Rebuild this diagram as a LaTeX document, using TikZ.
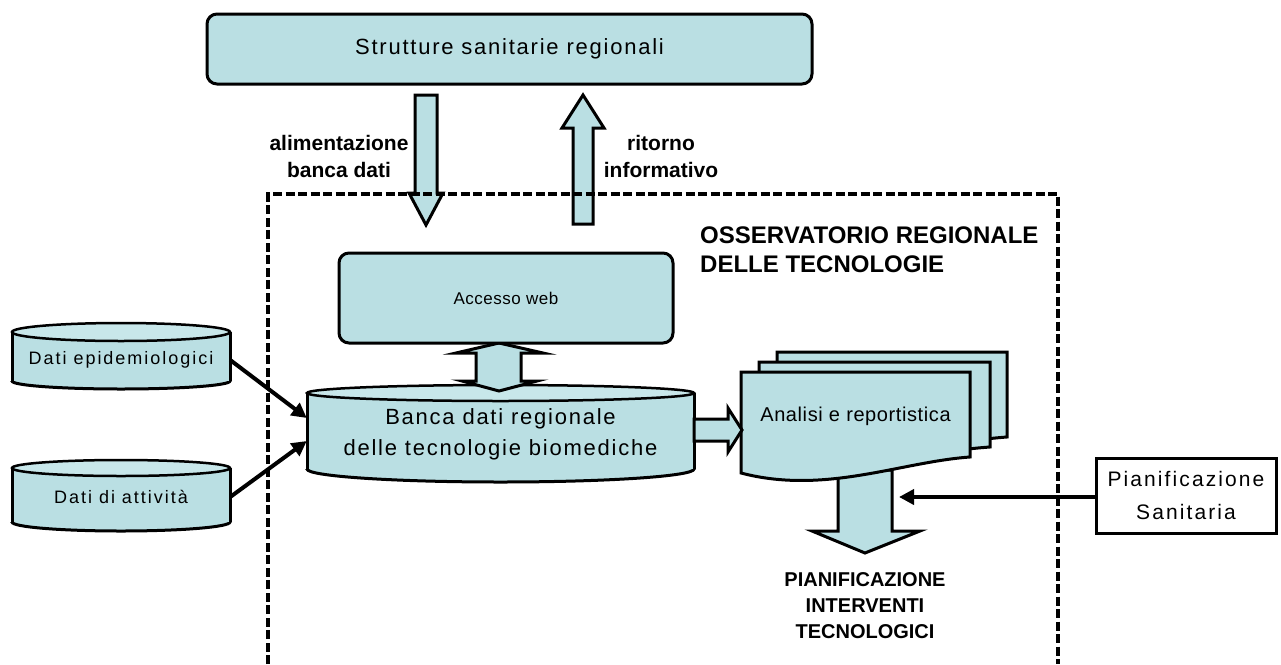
\documentclass[tikz,border=0pt]{standalone}
\usepackage{fontspec}
\setmainfont{Liberation Sans}
\newfontfamily\bfc{Liberation Sans Bold}
\newfontfamily\lsA{Liberation Sans}[LetterSpace=8]
\newfontfamily\lsB{Liberation Sans}[LetterSpace=11]
\newfontfamily\lsC{Liberation Sans}[LetterSpace=3]
\newfontfamily\lsD{Liberation Sans}[LetterSpace=10]
\usetikzlibrary{arrows.meta,calc}
\definecolor{cfill}{HTML}{BADFE3}
\definecolor{ctop}{HTML}{C8E7EA}
\newcommand\mycyl[6]{%
  \pgfmathsetmacro\cylcx{(#1+#2)/2}%
  \pgfmathsetmacro\cylrx{(#2-#1)/2}%
  \fill[cfill] (#1,#3) rectangle (#2,#4);
  \fill[cfill] (\cylcx,#4) ellipse[x radius=\cylrx, y radius=#6];
  \begin{scope}
    \clip (#1-5,#4) rectangle (#2+5,#4+#6+5);
    \draw[line width=3pt] (\cylcx,#4) ellipse[x radius=\cylrx, y radius=#6];
  \end{scope}
  \draw[line width=3pt] (#1,#3) -- (#1,#4) (#2,#3) -- (#2,#4);
  \draw[line width=2.5pt, fill=ctop] (\cylcx,#3) ellipse[x radius=\cylrx, y radius=#5];
}
\begin{document}
\begin{tikzpicture}[x=1pt,y=-1pt,
  rbox/.style={draw, line width=3pt, fill=cfill, rounded corners=10pt, inner sep=0pt},
  outl/.style={draw, line width=3pt, line join=miter, fill=cfill},
  txt/.style={align=center, inner sep=0pt},
  conn/.style={line width=4pt, -{Triangle[length=15pt,width=15pt]}},
  dashbox/.style={line width=3.5pt, dash pattern=on 9pt off 3.5pt}]
\useasboundingbox (0,0) rectangle (1281,664);

% top box
\node[rbox, minimum width=605pt, minimum height=70pt,
      font=\lsA\fontsize{22}{26}\selectfont] (ssr) at (509.5,49) {Strutture sanitarie regionali};

% feeding arrows
\draw[outl] (415,95) -- (437,95) -- (437,193) -- (443,193) -- (426,225)
  -- (409,193) -- (415,193) -- cycle;
\draw[outl] (573,224) -- (573,128) -- (562,128) -- (583,95) -- (604,128)
  -- (593,128) -- (593,224) -- cycle;

% observatory dashed box
\draw[dashbox] (268,664) -- (268,194) -- (1058,194) -- (1058,664);

\node[txt, font=\bfc\fontsize{21}{27}\selectfont] (lab1) at (339,156) {alimentazione\\banca dati};
\node[txt, font=\bfc\fontsize{21}{27}\selectfont] (lab2) at (661,156) {ritorno\\informativo};
\node[txt, align=left, anchor=west, font=\bfc\fontsize{24}{29}\selectfont] (oss) at (700,250)
  {OSSERVATORIO REGIONALE\\DELLE TECNOLOGIE};

% cylinders
\mycyl{12}{230}{332}{381}{9}{8}
\node[txt, minimum width=218pt, minimum height=40pt, font=\lsB\fontsize{18}{22}\selectfont] (epi) at (121,360) {Dati epidemiologici};
\mycyl{12}{230}{468}{522}{8}{9}
\node[txt, minimum width=218pt, minimum height=40pt, font=\lsB\fontsize{18}{22}\selectfont] (att) at (121,497) {Dati di attività};
\mycyl{307}{694}{393}{469}{8}{13}
\node[txt, minimum width=387pt, minimum height=70pt, font=\lsA\fontsize{22}{31}\selectfont] (bdb) at (500.5,434)
  {Banca dati regionale\\delle tecnologie biomediche};

% double arrow between web access and database
\draw[outl] (499,343) -- (543,353) -- (521,353) -- (521,381) -- (537,381) -- (499,391)
  -- (462,381) -- (476,381) -- (476,353) -- (456,353) -- cycle;

% web access
\node[rbox, minimum width=334pt, minimum height=90pt, font=\lsC\fontsize{17}{20}\selectfont] (acc) at (506,298) {Accesso web};

% input connectors
\draw[conn] (epi.east) -- ($(bdb.west)+(0,-16)$);
\draw[conn] (att.east) -- ($(bdb.west)+(0,7)$);

% down block arrow below analysis
\draw[outl] (838,470) -- (892,470) -- (892,531) -- (920,531) -- (865,553) -- (812,531)
  -- (838,531) -- cycle;

% stacked documents
\draw[outl] (777,352) -- (1007,352) -- (1007,437) .. controls (940,442) and (870,462) .. (777,448) -- cycle;
\draw[outl] (759,362) -- (990,362) -- (990,447) .. controls (920,452) and (850,472) .. (759,458) -- cycle;
\draw[outl] (741,372) -- (970,372) -- (970,457) .. controls (900,462) and (825,495) .. (741,473) -- cycle;
\node[txt, minimum width=229pt, minimum height=88pt, font=\lsC\fontsize{20}{24}\selectfont] (ana) at (855.5,416) {Analisi e reportistica};

% block arrow database -> analysis
\draw[outl] (694,419) -- (728,419) -- (728,408) -- (742,430) -- (728,452) -- (728,441) -- (694,441) -- cycle;

% health planning
\node[draw, line width=3pt, fill=white, minimum width=180pt, minimum height=75pt, inner sep=0pt,
      align=center, font=\lsD\fontsize{21}{33}\selectfont] (pian) at (1186,495.5) {Pianificazione\\Sanitaria};
\coordinate (pt) at (899,497);
\draw[conn] (pian.west |- pt) -- (pt);

\node[txt, font=\bfc\fontsize{20}{26}\selectfont] (pit) at (865,606) {PIANIFICAZIONE\\INTERVENTI\\TECNOLOGICI};
\end{tikzpicture}
\end{document}
